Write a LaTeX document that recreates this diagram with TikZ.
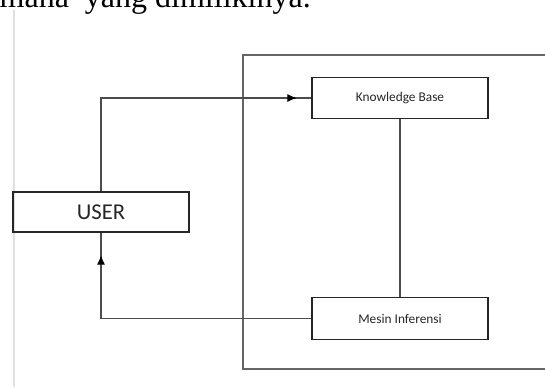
\documentclass[tikz,border=0pt]{standalone}
\usepackage{fontspec}
\setmainfont{Carlito}
\newfontfamily\pageserif{Liberation Serif}
\usetikzlibrary{arrows.meta,decorations.markings}

\tikzset{
  blockbox/.style={draw=black!85, line width=0.9pt, minimum width=132pt, minimum height=31pt,
    inner sep=0pt, text=black!85, font=\fontsize{10}{12}\selectfont},
  flowline/.style={draw=black!70, line width=0.8pt},
  midarrow/.style={postaction={decorate}, decoration={markings,
    mark=at position #1 with {\arrow[black]{Latex[length=7pt,width=6pt]}}}},
}

\begin{document}
\begin{tikzpicture}[x=0.75pt,y=-0.75pt]
\useasboundingbox (0,0) rectangle (545,387);
\clip (0,0) rectangle (545,387);

% text of the page above the picture
\node[anchor=base east, inner sep=0pt, text=black, font=\pageserif\fontsize{24}{28}\selectfont]
  (pagetext) at (311,7) {mana\ \ yang dimilikinya.};

% margin guide of the page
\draw[black!12, line width=0.8pt] (14,10) -- (14,387);

% system frame (open on the right)
\draw[black!60, line width=1pt] (560,55) -- (243,55) -- (243,369) -- (560,369);

% boxes
\node[blockbox, minimum height=30pt, font=\fontsize{17}{20}\selectfont] (user) at (101,212) {USER};
\node[blockbox] (kb) at (400,98) {Knowledge Base};
\node[blockbox] (mesin) at (400,318.5) {Mesin Inferensi};

% connections
\draw[flowline, midarrow=-11pt] (user.north) |- (kb.west);
\draw[flowline] (kb.south) -- (mesin.north);
\draw[flowline, midarrow=-17pt] (mesin.west) -| (user.south);

\end{tikzpicture}
\end{document}
